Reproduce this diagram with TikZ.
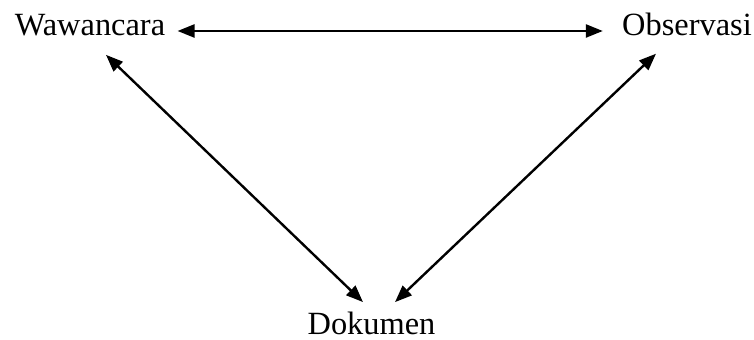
\documentclass[tikz,border=0pt]{standalone}
\usepackage{fontspec}
\setmainfont{Liberation Serif}
\usetikzlibrary{arrows.meta}
\definecolor{inkblack}{HTML}{000000}

\begin{document}
\begin{tikzpicture}[x=0.5pt,y=0.5pt,
    every node/.style={font=\fontsize{16.2}{19}\selectfont,inner sep=6pt},
    biarrow/.style={inkblack,line width=1.2pt,
      {Triangle[length=8.5pt,width=6.5pt]}-{Triangle[length=8.5pt,width=6.5pt]}}]

  \useasboundingbox (0,0) rectangle (754,340);

  % ---- source nodes ----
  \node[anchor=base] (waw) at (90,304)    {Wawancara};
  \node[anchor=base] (obs) at (687,304)   {Observasi};
  \node[anchor=base] (dok) at (371.5,5)   {Dokumen};

  % ---- triangulation arrows ----
  \draw[biarrow] ([yshift=2.5pt]waw.base east)
        -- ([xshift=-3.5pt,yshift=2.5pt]obs.base west);
  \draw[biarrow] ([xshift=8pt,yshift=-3pt]waw.south)
        -- ([xshift=-4.25pt,yshift=-1pt]dok.north);
  \draw[biarrow] ([xshift=-15.5pt,yshift=-2.5pt]obs.south)
        -- ([xshift=11.75pt,yshift=-1pt]dok.north);

\end{tikzpicture}
\end{document}
